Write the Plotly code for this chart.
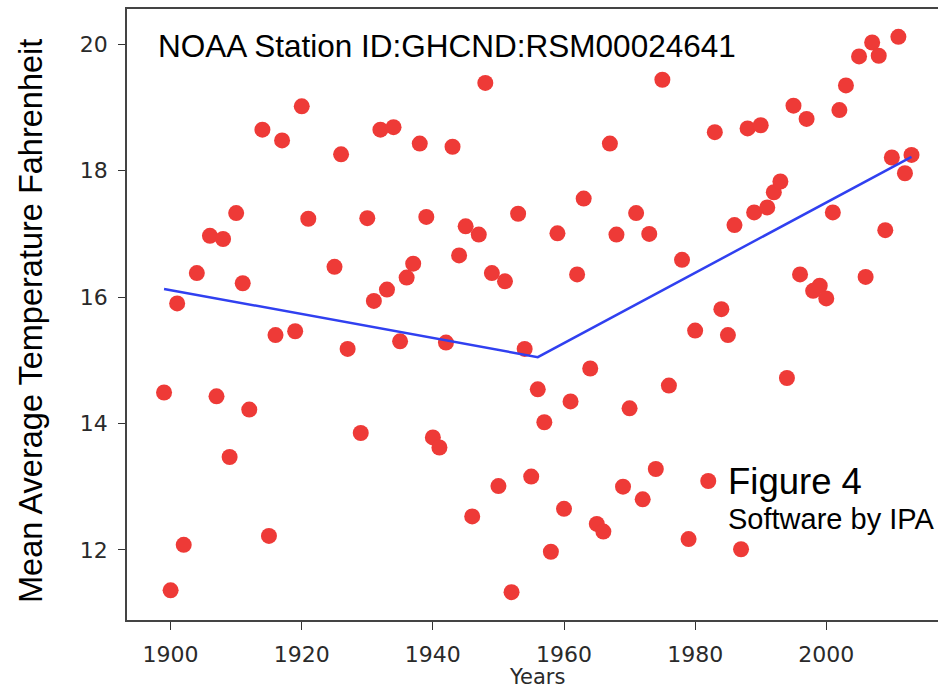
import plotly.graph_objects as go

# ---- data ----
years = [1899, 1900, 1901, 1902, 1904, 1906, 1907, 1908, 1909, 1910, 1911, 1912,
         1914, 1915, 1916, 1917, 1919, 1920, 1921, 1925, 1926, 1927, 1929, 1930,
         1931, 1932, 1933, 1934, 1935, 1936, 1937, 1938, 1939, 1940, 1941, 1942,
         1943, 1944, 1945, 1946, 1947, 1948, 1949, 1950, 1951, 1952, 1953, 1954,
         1955, 1956, 1957, 1958, 1959, 1960, 1961, 1962, 1963, 1964, 1965, 1966,
         1967, 1968, 1969, 1970, 1971, 1972, 1973, 1974, 1975, 1976, 1978, 1979,
         1980, 1982, 1983, 1984, 1985, 1986, 1987, 1988, 1989, 1990, 1991, 1992,
         1993, 1994, 1995, 1996, 1997, 1998, 1999, 2000, 2001, 2002, 2003, 2005,
         2006, 2007, 2008, 2009, 2010, 2011, 2012, 2013]
temps = [14.49, 11.36, 15.90, 12.08, 16.38, 16.97, 14.43, 16.92, 13.47, 17.33, 16.22, 14.22,
         18.65, 12.22, 15.40, 18.48, 15.46, 19.02, 17.24, 16.48, 18.26, 15.18, 13.85, 17.25,
         15.94, 18.65, 16.12, 18.69, 15.30, 16.31, 16.53, 18.43, 17.27, 13.78, 13.62, 15.28,
         18.38, 16.66, 17.12, 12.53, 16.99, 19.39, 16.38, 13.01, 16.25, 11.33, 17.32, 15.18,
         13.16, 14.54, 14.02, 11.97, 17.01, 12.65, 14.35, 16.36, 17.56, 14.87, 12.41, 12.29,
         18.43, 16.99, 13.00, 14.24, 17.33, 12.80, 17.00, 13.28, 19.44, 14.60, 16.59, 12.17,
         15.47, 13.09, 18.61, 15.81, 15.40, 17.14, 12.01, 18.67, 17.34, 18.72, 17.42, 17.66,
         17.83, 14.72, 19.03, 16.36, 18.82, 16.10, 16.18, 15.98, 17.34, 18.96, 19.35, 19.81,
         16.32, 20.03, 19.82, 17.06, 18.21, 20.12, 17.96, 18.25]

fit_years = [1899, 1956, 2013]
fit_temps = [16.13, 15.05, 18.22]

x_ticks = [1900, 1920, 1940, 1960, 1980, 2000]
y_ticks = [12, 14, 16, 18, 20]

W, H = 938, 689
ML, MR, MT, MB = 127, 0, 9, 69

fig = go.Figure()
fig.add_trace(go.Scatter(x=years, y=temps, mode="markers",
                         marker=dict(size=16, color="#EE3A37", line=dict(width=0)),
                         showlegend=False))
fig.add_trace(go.Scatter(x=fit_years, y=fit_temps, mode="lines",
                         line=dict(color="#3040F0", width=2.5),
                         showlegend=False))

def px(xp):
    return (xp - ML) / (W - ML - MR)

def py(yp):
    return (H - MB - yp) / (H - MT - MB)

tickfont = dict(family="DejaVu Sans", size=22, color="#2a2a2a")
fig.update_layout(
    width=W, height=H,
    margin=dict(l=ML, r=MR, t=MT, b=MB, pad=0),
    paper_bgcolor="white", plot_bgcolor="white",
    xaxis=dict(range=[1893.35, 2017.04], tickvals=x_ticks, ticks="outside",
               ticklen=8, tickwidth=1.2, tickcolor="#333",
               showline=True, linecolor="#444", linewidth=1.5, mirror=True,
               showgrid=False, zeroline=False, tickfont=tickfont,
               ticklabelstandoff=6),
    yaxis=dict(range=[10.89, 20.56], tickvals=y_ticks, ticks="outside",
               ticklen=7, tickwidth=1.2, tickcolor="#333",
               showline=True, linecolor="#444", linewidth=1.5, mirror=False,
               showgrid=False, zeroline=False, tickfont=tickfont,
               ticklabelstandoff=6),
    annotations=[
        dict(text="Years", x=px(537), y=py(677), xref="paper", yref="paper",
             showarrow=False, xanchor="center", yanchor="middle",
             font=dict(family="DejaVu Sans", size=21, color="#2a2a2a")),
        dict(text="Mean Average Temperature Fahrenheit", x=px(31), y=py(321),
             xref="paper", yref="paper", showarrow=False, textangle=-90,
             xanchor="center", yanchor="middle",
             font=dict(family="Liberation Sans", size=32.5, color="black")),
        dict(text="NOAA Station ID:GHCND:RSM00024641", x=px(156), y=py(46),
             xref="paper", yref="paper", showarrow=False,
             xanchor="left", yanchor="middle",
             font=dict(family="Liberation Sans", size=31.5, color="black")),
        dict(text="Figure 4", x=px(726), y=py(482), xref="paper", yref="paper",
             showarrow=False, xanchor="left", yanchor="middle",
             font=dict(family="Liberation Sans", size=36.5, color="black")),
        dict(text="Software by IPA", x=px(726), y=py(519), xref="paper", yref="paper",
             showarrow=False, xanchor="left", yanchor="middle",
             font=dict(family="Liberation Sans", size=29, color="black")),
    ],
)

fig.write_html("out.html", config={"displayModeBar": False},
               post_script="document.body.style.margin='0';document.body.style.overflow='hidden';")
